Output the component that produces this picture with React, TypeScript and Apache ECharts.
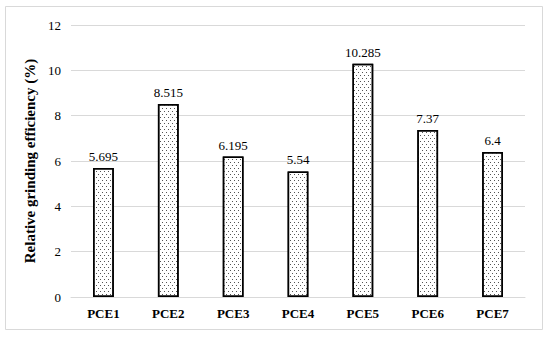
import React, { useEffect, useRef } from "react";
import * as echarts from "echarts";

const categories = ["PCE1", "PCE2", "PCE3", "PCE4", "PCE5", "PCE6", "PCE7"];
const values = [5.695, 8.515, 6.195, 5.54, 10.285, 7.37, 6.4];
const yAxisTitle = "Relative grinding efficiency (%)";
const yMin = 0;
const yMax = 12;
const yInterval = 2;

const FONT = "Liberation Serif";

export default function App() {
  const ref = useRef<HTMLDivElement>(null);
  useEffect(() => {
    if (!ref.current) return;
    const chart = echarts.init(ref.current, null, { renderer: "svg" });
    chart.setOption({
      animation: false,
      backgroundColor: "#fff",
      textStyle: { fontFamily: FONT },
      graphic: [
        {
          type: "rect",
          shape: { x: 5.5, y: 6.5, width: 537, height: 323 },
          style: { fill: "none", stroke: "#d9d9d9", lineWidth: 1 },
          silent: true,
        },
      ],
      grid: { left: 71, right: 25, top: 25, bottom: 41 },
      xAxis: {
        type: "category",
        data: categories,
        axisLine: { show: true, lineStyle: { color: "#d9d9d9", width: 1 } },
        axisTick: { show: false },
        axisLabel: {
          color: "#000",
          fontFamily: FONT,
          fontWeight: "bold",
          fontSize: 13,
          margin: 10,
        },
      },
      yAxis: {
        type: "value",
        min: yMin,
        max: yMax,
        interval: yInterval,
        name: yAxisTitle,
        nameLocation: "middle",
        nameGap: 27,
        nameTextStyle: {
          color: "#000",
          fontFamily: FONT,
          fontWeight: "bold",
          fontSize: 15,
        },
        axisLine: { show: false },
        axisTick: { show: false },
        splitLine: { show: true, lineStyle: { color: "#d9d9d9", width: 1 } },
        axisLabel: { color: "#000", fontFamily: FONT, fontSize: 13, margin: 10 },
      },
      series: [
        {
          type: "bar",
          data: values,
          barWidth: "32%",
          itemStyle: {
            color: "#fff",
            borderColor: "#000",
            borderWidth: 1.5,
            decal: {
              symbol: "rect",
              symbolSize: 1,
              color: "#555",
              backgroundColor: "#fff",
              dashArrayX: [
                [1, 3],
                [0, 2, 1, 1],
              ],
              dashArrayY: [1, 2],
            },
          },
          label: {
            show: true,
            position: "top",
            distance: 5,
            color: "#000",
            fontFamily: FONT,
            fontSize: 13,
            formatter: (p: any) => String(p.value),
          },
        },
      ],
    });
    return () => chart.dispose();
  }, []);
  return (
    <div
      ref={ref}
      style={{ position: "absolute", left: 0, top: 0, width: 550, height: 338 }}
    />
  );
}
